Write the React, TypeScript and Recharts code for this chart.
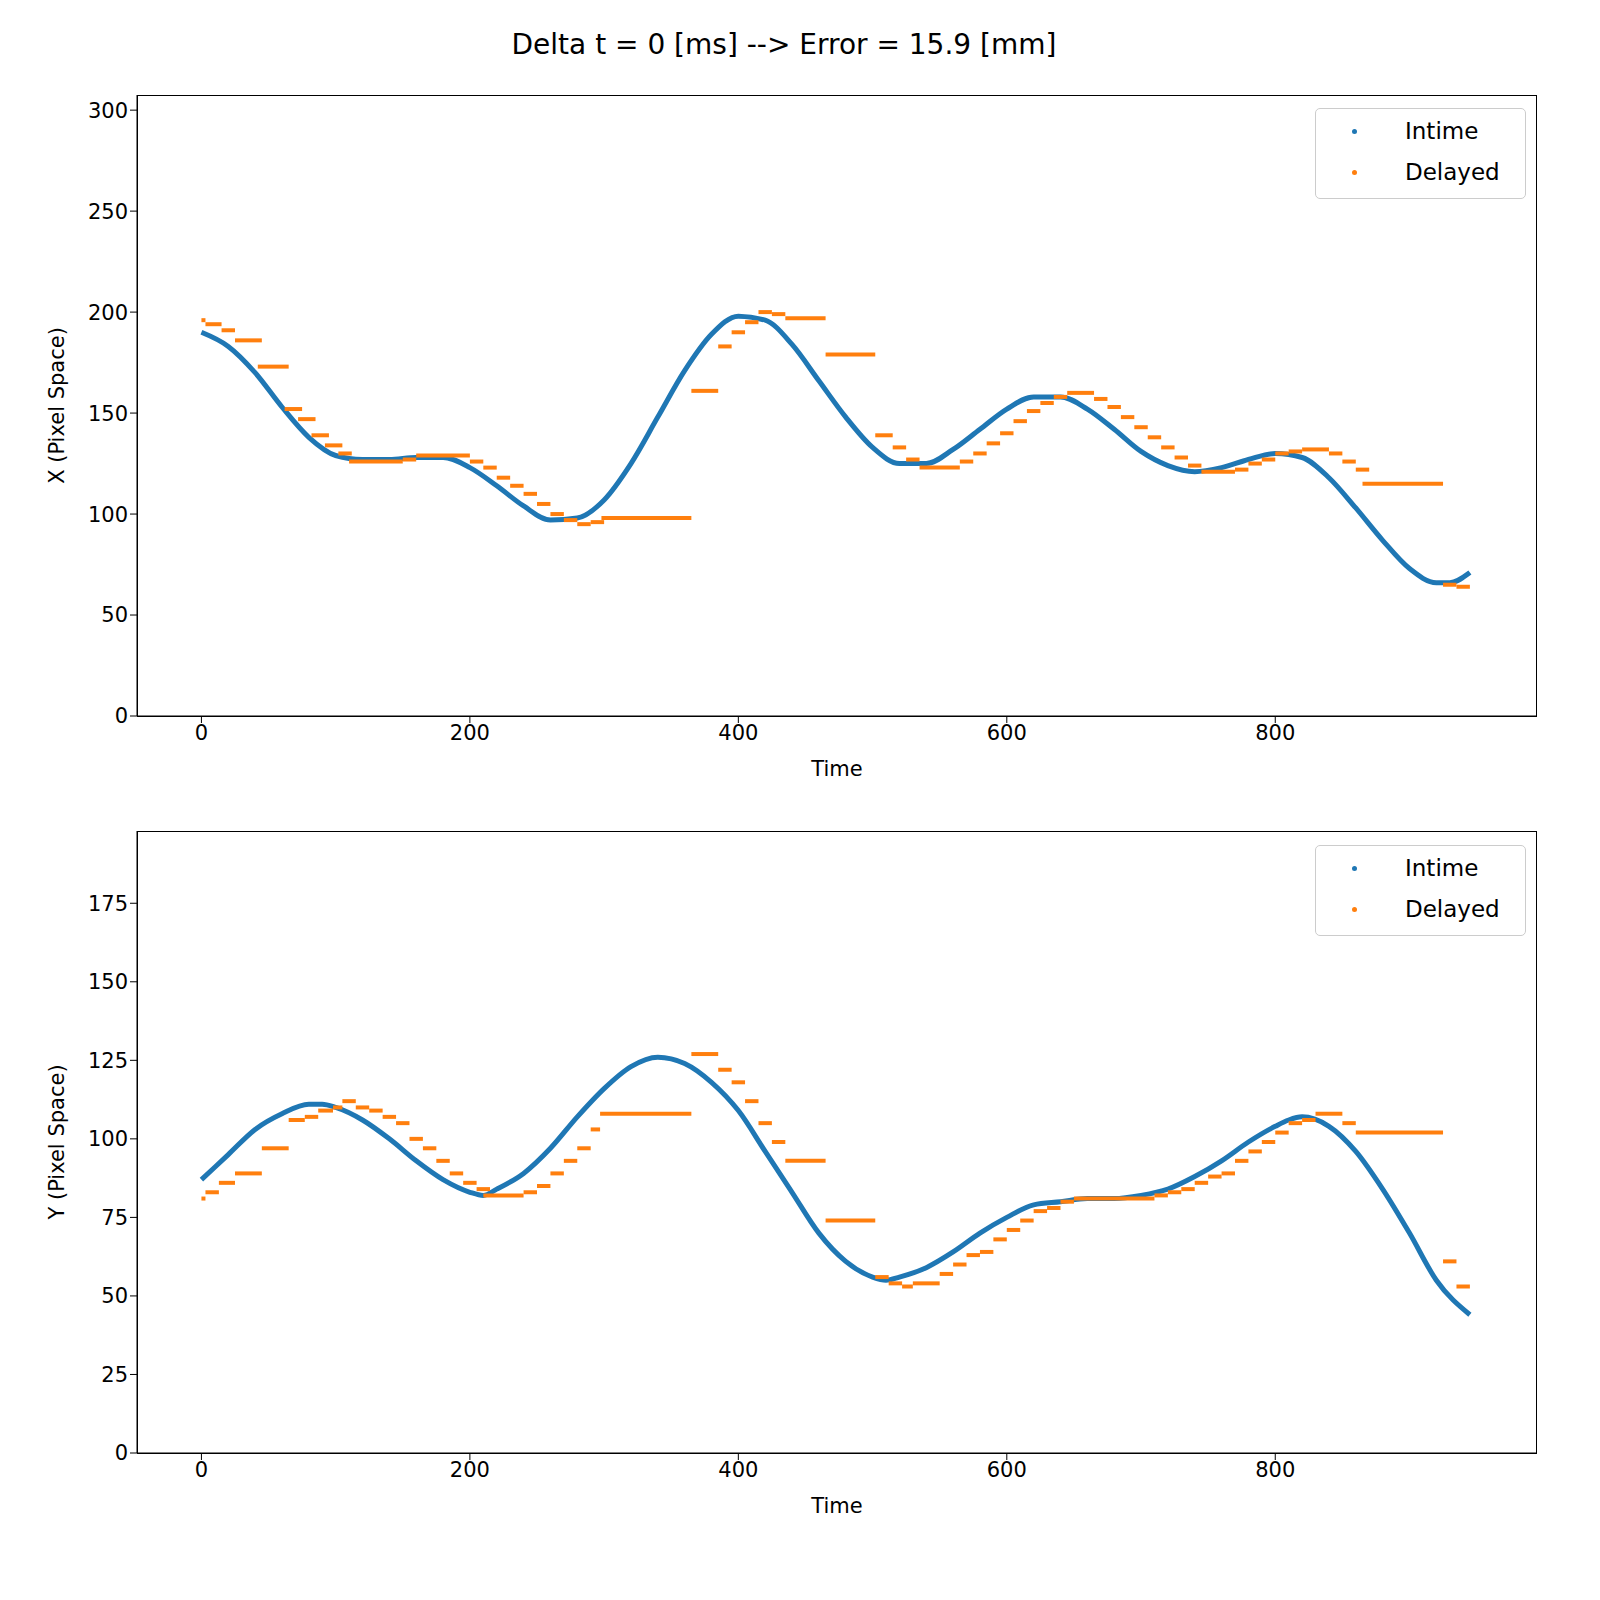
import React from 'react';
import { ComposedChart, Line, XAxis, YAxis } from 'recharts';

// Intime X trace: [time, value]
const intimeX: [number, number][] = [
  [0, 190], [20, 183], [40, 170], [60, 153], [80, 138], [100, 129], [120, 127], [140, 127],
  [160, 128], [180, 128], [200, 123], [220, 114], [240, 104], [260, 97], [280, 98], [300, 107],
  [320, 125], [340, 148], [360, 171], [380, 189], [400, 198], [420, 196], [440, 184], [460, 166],
  [480, 148], [500, 133], [520, 125], [540, 125], [560, 132], [580, 142], [600, 152], [620, 158],
  [640, 158], [660, 152], [680, 142], [700, 131], [720, 124], [740, 121], [760, 123], [780, 127],
  [800, 130], [820, 128], [840, 118], [860, 103], [880, 87], [900, 73], [920, 66], [930, 66], [945, 71],
];

// Delayed X steps: [start, end, value]
const delayedX: [number, number, number][] = [
  [0, 3, 196], [3, 15, 194], [15, 25, 191], [25, 45, 186], [42, 65, 173], [62, 75, 152], [72, 85, 147],
  [82, 95, 139], [92, 105, 134], [102, 112, 130], [110, 150, 126], [150, 160, 127], [160, 200, 129],
  [200, 210, 126], [210, 220, 123], [220, 230, 118], [230, 240, 114], [240, 250, 110], [250, 260, 105],
  [260, 270, 100], [270, 280, 97], [280, 290, 95], [290, 300, 96], [298, 365, 98], [365, 385, 161],
  [385, 395, 183], [395, 405, 190], [405, 415, 195], [415, 425, 200], [425, 435, 199], [435, 465, 197],
  [465, 502, 179], [502, 515, 139], [515, 525, 133], [525, 535, 127], [535, 565, 123], [565, 575, 126],
  [575, 585, 130], [585, 595, 135], [595, 605, 140], [605, 615, 146], [615, 625, 151], [625, 635, 155],
  [635, 645, 158], [645, 665, 160], [665, 675, 157], [675, 685, 153], [685, 695, 148], [695, 705, 143],
  [705, 715, 138], [715, 725, 133], [725, 735, 128], [735, 745, 124], [745, 770, 121], [770, 780, 122],
  [780, 790, 125], [790, 800, 127], [800, 810, 130], [810, 820, 131], [820, 840, 132], [840, 850, 130],
  [850, 860, 126], [860, 870, 122], [865, 925, 115], [925, 935, 65], [935, 945, 64],
];

const intimeY: [number, number][] = [
  [0, 87], [20, 95], [40, 103], [60, 108], [80, 111], [90, 111], [100, 110], [120, 106], [140, 100],
  [160, 93], [180, 87], [200, 83], [210, 82], [220, 84], [240, 89], [260, 97], [280, 107], [300, 116],
  [320, 123], [340, 126], [360, 124], [380, 118], [400, 109], [420, 96], [440, 83], [460, 70], [480, 61],
  [500, 56], [510, 55], [520, 56], [540, 59], [560, 64], [580, 70], [600, 75], [620, 79], [640, 80],
  [660, 81], [680, 81], [700, 82], [720, 84], [740, 88], [760, 93], [780, 99], [800, 104], [810, 106],
  [820, 107], [840, 104], [860, 96], [880, 84], [900, 70], [920, 55], [945, 44],
];

const delayedY: [number, number, number][] = [
  [0, 3, 81], [3, 13, 83], [13, 25, 86], [25, 45, 89], [45, 65, 97], [65, 77, 106], [77, 87, 107],
  [87, 98, 109], [98, 105, 110], [105, 115, 112], [115, 125, 110], [125, 135, 109], [135, 145, 107],
  [145, 155, 105], [155, 165, 100], [165, 175, 97], [175, 185, 93], [185, 195, 89], [195, 205, 86],
  [205, 215, 84], [210, 240, 82], [240, 250, 83], [250, 260, 85], [260, 270, 89], [270, 280, 93],
  [280, 290, 97], [290, 297, 103], [297, 365, 108], [365, 385, 127], [385, 395, 122], [395, 405, 118],
  [405, 415, 112], [415, 425, 105], [425, 435, 99], [435, 465, 93], [465, 502, 74], [502, 512, 56],
  [512, 522, 54], [522, 530, 53], [530, 550, 54], [550, 560, 57], [560, 570, 60], [570, 580, 63],
  [580, 590, 64], [590, 600, 68], [600, 610, 71], [610, 620, 74], [620, 630, 77], [630, 640, 78],
  [640, 650, 80], [650, 710, 81], [710, 720, 82], [720, 730, 83], [730, 740, 84], [740, 750, 86],
  [750, 760, 88], [760, 770, 89], [770, 780, 93], [780, 790, 96], [790, 800, 99], [800, 810, 102],
  [810, 820, 105], [820, 830, 106], [830, 850, 108], [850, 860, 105], [860, 925, 102], [925, 935, 61],
  [935, 945, 53],
];

const timeTicks = [0, 200, 400, 600, 800];
const xTicks = [0, 50, 100, 150, 200, 250, 300];
const yTicks = [0, 25, 50, 75, 100, 125, 150, 175];

const BLUE = '#1f77b4';
const ORANGE = '#ff7f0e';
const FONT = 'DejaVu Sans, sans-serif';
const tickStyle = { fill: '#000', fontSize: 21, fontFamily: FONT };

const Legend = ({ top }: { top: number }) => (
  <div style={{
    position: 'absolute', left: 1315, top, width: 211, height: 91, border: '1.5px solid #ccc',
    borderRadius: 5, background: '#fff', fontFamily: FONT, fontSize: 23, boxSizing: 'border-box',
  }}>
    {[['Intime', BLUE], ['Delayed', ORANGE]].map(([name, c], i) => (
      <div key={name} style={{ position: 'absolute', top: 6 + i * 41, left: 0, height: 32, display: 'flex', alignItems: 'center' }}>
        <span style={{ width: 5, height: 5, borderRadius: 3, background: c, marginLeft: 36, marginRight: 48 }} />
        <span>{name}</span>
      </div>
    ))}
  </div>
);

interface PanelProps {
  top: number;
  intime: [number, number][];
  delayed: [number, number, number][];
  yMax: number;
  ticks: number[];
  label: string;
  margin: { top: number; bottom: number };
}

const Panel = ({ top, intime, delayed, yMax, ticks, label, margin }: PanelProps) => (
  <div style={{ position: 'absolute', left: 0, top }}>
    <ComposedChart width={1600} height={780} margin={{ top: margin.top, bottom: margin.bottom, left: 47, right: 63 }}>
      <XAxis dataKey="t" type="number" domain={[-48, 995]} ticks={timeTicks} allowDataOverflow
        tick={tickStyle} stroke="#000" tickSize={7} height={62}
        label={{ value: 'Time', position: 'insideBottom', offset: 2, style: tickStyle }} />
      <YAxis type="number" domain={[0, yMax]} ticks={ticks} allowDataOverflow
        tick={tickStyle} stroke="#000" tickSize={7} width={90}
        label={{ value: label, angle: -90, position: 'insideLeft', offset: 10, style: { ...tickStyle, textAnchor: 'middle' } }} />
      <Line data={intime.map(([t, v]) => ({ t, v }))} dataKey="v" type="monotone"
        stroke={BLUE} strokeWidth={5} dot={false} isAnimationActive={false} />
      {delayed.map(([s, e, v], i) => (
        <Line key={i} data={[{ t: s, v }, { t: e, v }]} dataKey="v"
          stroke={ORANGE} strokeWidth={4} dot={false} isAnimationActive={false} />
      ))}
    </ComposedChart>
  </div>
);

const Frame = ({ top, height }: { top: number; height: number }) => (
  <div style={{ position: 'absolute', left: 137, top, width: 1400, height, border: '1.5px solid #000', boxSizing: 'border-box', pointerEvents: 'none' }} />
);

export default function App() {
  return (
    <div style={{ position: 'absolute', left: 0, top: 0, width: 1600, height: 1600, background: '#fff' }}>
      <div style={{ position: 'absolute', top: 28, width: 1568, textAlign: 'center', fontFamily: FONT, fontSize: 28 }}>
        Delta t = 0 [ms] --&gt; Error = 15.9 [mm]
      </div>
      <Panel top={0} intime={intimeX} delayed={delayedX} yMax={307.5} ticks={xTicks} label="X (Pixel Space)" margin={{ top: 95, bottom: 2 }} />
      <Panel top={740} intime={intimeY} delayed={delayedY} yMax={198} ticks={yTicks} label="Y (Pixel Space)" margin={{ top: 91, bottom: 5 }} />
      <Frame top={95} height={622} />
      <Frame top={831} height={623} />
      <Legend top={108} />
      <Legend top={845} />
    </div>
  );
}
